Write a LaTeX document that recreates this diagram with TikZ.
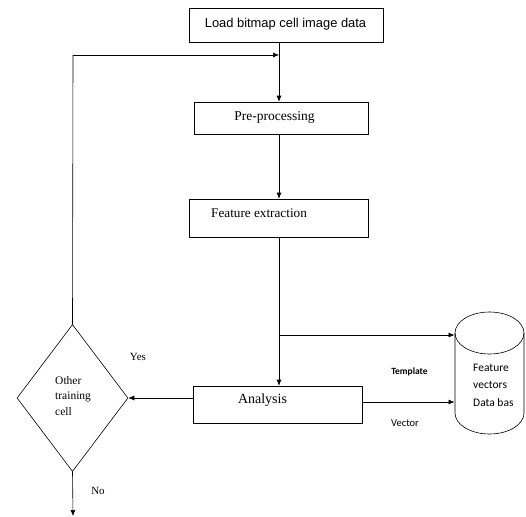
\documentclass[tikz,border=0pt]{standalone}
\usepackage{fontspec}
\setmainfont{Liberation Serif}
\newfontfamily\arialf{Liberation Sans}
\newfontfamily\calf{Carlito}
\usetikzlibrary{arrows.meta,shapes.geometric}
\begin{document}
\begin{tikzpicture}[x=1pt,y=-1pt,
  box/.style={draw,semithick,inner sep=0pt},
  arr/.style={-{Latex[length=6pt,width=5pt]},semithick},
  ln/.style={semithick},
  lbl/.style={inner sep=0pt}]
\useasboundingbox (0,0) rectangle (526,516);
% boxes
\node[box,minimum width=194pt,minimum height=34pt] (load) at (286,25) {};
\node[inner sep=0pt,font=\arialf\fontsize{12.9}{14}\selectfont] (loadt) at (285.5,24) {Load bitmap cell image data};
\node[box,minimum width=174pt,minimum height=32pt] (pre) at (281,118) {};
\node[inner sep=0pt,font=\fontsize{13.5}{15}\selectfont] (pret) at (274.5,117) {Pre-processing};
\node[box,minimum width=179pt,minimum height=38pt] (feat) at (278.5,218) {};
\node[inner sep=0pt,anchor=west,font=\fontsize{13.2}{15}\selectfont] (featt) at (211,213) {Feature extraction};
\node[box,minimum width=169pt,minimum height=37pt] (ana) at (277.5,404.5) {};
\node[inner sep=0pt,font=\fontsize{14}{15}\selectfont] (anat) at (262.5,400) {Analysis};
% diamond
\node[draw,semithick,diamond,minimum width=111pt,minimum height=147pt,inner sep=0pt] (dec) at (72.5,398) {};
\node[inner sep=0pt,anchor=west,align=left,font=\fontsize{11.5}{15.5}\selectfont] (dect) at (55,396) {Other\\training\\cell};
% cylinder
\node[minimum width=69pt,minimum height=122pt,inner sep=0pt] (db) at (489.5,373) {};
\draw[semithick] (455,333) -- (455,413) arc[start angle=180,end angle=0,x radius=34.5,y radius=21] -- (524,333);
\draw[semithick] (489.5,333) ellipse [x radius=34.5,y radius=21];
\node[inner sep=0pt,anchor=west,align=left,font=\calf\fontsize{11.5}{17.5}\selectfont] (dbt) at (473,385) {Feature\\vectors\\Data bas};
% junctions
\coordinate (j1) at (279,55);
\coordinate (j2) at (279,335);
\coordinate (c1) at (73,55);
\coordinate (dbin1) at (454.5,335);
\coordinate (dbin2) at (454.5,402);
\coordinate (noend) at (73,516);
% connectors
\draw[arr] (load.south -| j1) -- (pre.north -| j1);
\draw[arr] (c1) -- (j1);
\draw[ln] (dec.north) -- (c1);
\draw[arr] (pre.south -| j1) -- (feat.north -| j1);
\draw[arr] (feat.south -| j1) -- (ana.north -| j1);
\draw[arr] (j2) -- (dbin1);
\draw[arr] (ana.west |- dec.east) -- (dec.east);
\draw[arr] (ana.east |- dbin2) -- (dbin2);
\draw[arr] (dec.south) -- (noend);
% labels
\node[lbl,font=\fontsize{11}{12}\selectfont] (yes) at (138,357) {Yes};
\node[lbl,font=\fontsize{11}{12}\selectfont] (no) at (98,491) {No};
\node[lbl,font=\calf\bfseries\fontsize{9.5}{11}\selectfont] (tmp) at (409.5,372) {Template};
\node[lbl,font=\calf\fontsize{10.5}{12}\selectfont] (vec) at (405,423) {Vector};
\end{tikzpicture}
\end{document}
